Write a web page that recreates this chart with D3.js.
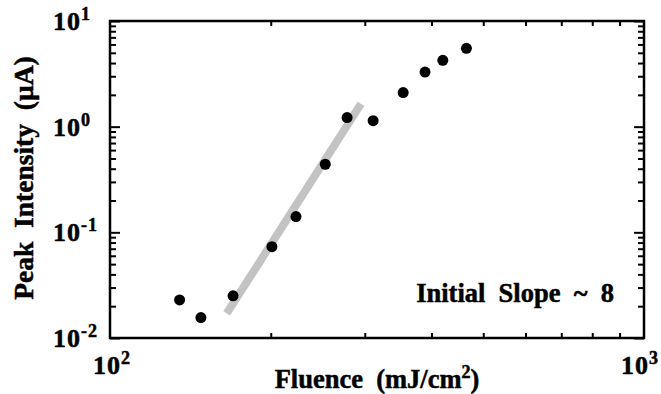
<!DOCTYPE html>
<html>
<head>
<meta charset="utf-8">
<script src="https://cdn.jsdelivr.net/npm/d3@7"></script>
<style>
  html, body { margin: 0; padding: 0; background: #fff; }
</style>
</head>
<body>
<svg id="chart" width="661" height="394"></svg>
<script>
// ---- data ----
const fluence   = [135, 148, 170, 201, 223, 253, 278, 311, 354, 389, 420, 465];
const intensity = [0.0229, 0.0156, 0.0251, 0.0731, 0.141, 0.441, 1.22, 1.14, 2.10, 3.29, 4.25, 5.52];
const fitFluence   = [165.4, 295.1];
const fitIntensity = [0.0171, 1.64];
const xMajorTicks = [100, 1000];
const xMajorExp   = ["2", "3"];
const xMinorTicks = [200, 300, 400, 500, 600, 700, 800, 900];
const yMajorTicks = [0.01, 0.1, 1, 10];
const yMajorExp   = ["-2", "-1", "0", "1"];
const yMinorTicks = [0.02,0.03,0.04,0.05,0.06,0.07,0.08,0.09,
                     0.2,0.3,0.4,0.5,0.6,0.7,0.8,0.9,
                     2,3,4,5,6,7,8,9];
const xTitle = "Fluence  (mJ/cm";
const yTitle = "Peak  Intensity  (µA)";
const annotation = "Initial  Slope  ~  8";

// ---- layout ----
const FONT = "'Liberation Serif', 'Times New Roman', Tinos, 'DejaVu Serif', serif";
const L = 110, R = 644, T = 21, B = 338;
const svg = d3.select("#chart")
  .attr("font-family", FONT).attr("font-weight", "bold");
const x = d3.scaleLog().domain([100, 1000]).range([L, R]);
const y = d3.scaleLog().domain([0.01, 10]).range([B, T]);

function heavy(t) {
  return t.attr("font-family", FONT).attr("font-weight", "bold")
    .attr("fill", "#000").attr("stroke", "#000").attr("stroke-width", 0.5);
}

// fit line
svg.append("line")
  .attr("x1", x(fitFluence[0])).attr("y1", y(fitIntensity[0]))
  .attr("x2", x(fitFluence[1])).attr("y2", y(fitIntensity[1]))
  .attr("stroke", "#c3c3c3").attr("stroke-width", 8).attr("stroke-linecap", "butt");

// axes (ticks inward)
function styleAxis(g) {
  g.select(".domain").remove();
  g.selectAll(".tick text").remove();
  g.selectAll(".tick line").attr("stroke", "#000").attr("stroke-width", 2);
}
svg.append("g").attr("transform", `translate(0,${B})`)
  .call(d3.axisBottom(x).tickValues(xMinorTicks).tickSize(-5)).call(styleAxis);
svg.append("g").attr("transform", `translate(0,${T})`)
  .call(d3.axisTop(x).tickValues(xMinorTicks).tickSize(-5)).call(styleAxis);
svg.append("g").attr("transform", `translate(${L},0)`)
  .call(d3.axisLeft(y).tickValues(yMinorTicks).tickSize(-6)).call(styleAxis);
svg.append("g").attr("transform", `translate(${L},0)`)
  .call(d3.axisLeft(y).tickValues(yMajorTicks).tickSize(-10)).call(styleAxis);
svg.append("g").attr("transform", `translate(${R},0)`)
  .call(d3.axisRight(y).tickValues(yMinorTicks).tickSize(-6)).call(styleAxis);
svg.append("g").attr("transform", `translate(${R},0)`)
  .call(d3.axisRight(y).tickValues(yMajorTicks).tickSize(-10)).call(styleAxis);

// frame
svg.append("rect").attr("x", L).attr("y", T).attr("width", R - L).attr("height", B - T)
  .attr("fill", "none").attr("stroke", "#000").attr("stroke-width", 2.5);

// y tick labels
yMajorTicks.forEach((v, i) => {
  const t = heavy(svg.append("text")).attr("x", 53).attr("y", y(v) + 9)
    .attr("font-size", 26).attr("letter-spacing", 1);
  t.append("tspan").text("10");
  t.append("tspan").attr("font-size", 18).attr("dy", -10).text(yMajorExp[i]);
});
// x tick labels (10^2 starts near x=93, 10^3 ends near the right edge)
const xLabelPos = [{ x: 93, anchor: "start" }, { x: 659, anchor: "end" }];
xMajorTicks.forEach((v, i) => {
  const t = heavy(svg.append("text")).attr("x", xLabelPos[i].x).attr("y", 374)
    .attr("font-size", 26).attr("letter-spacing", 1).attr("text-anchor", xLabelPos[i].anchor);
  t.append("tspan").text("10");
  t.append("tspan").attr("font-size", 18).attr("dy", -10).text(xMajorExp[i]);
});

// points
svg.append("g").selectAll("circle").data(fluence).join("circle")
  .attr("cx", (d) => x(d)).attr("cy", (d, i) => y(intensity[i])).attr("r", 5.5).attr("fill", "#000");

// titles
const xt = heavy(svg.append("text")).attr("x", 377).attr("y", 388).attr("font-size", 26.5)
  .attr("text-anchor", "middle").attr("xml:space", "preserve");
xt.append("tspan").text(xTitle);
xt.append("tspan").attr("font-size", 18).attr("dy", -10).text("2");
xt.append("tspan").attr("dy", 10).text(")");

heavy(svg.append("text")).attr("transform", `translate(33,178) rotate(-90)`)
  .attr("font-size", 27.5).attr("text-anchor", "middle").attr("xml:space", "preserve")
  .text(yTitle);

heavy(svg.append("text")).attr("x", 614).attr("y", 302).attr("font-size", 26.5)
  .attr("text-anchor", "end").attr("xml:space", "preserve").text(annotation);
</script>
</body>
</html>
